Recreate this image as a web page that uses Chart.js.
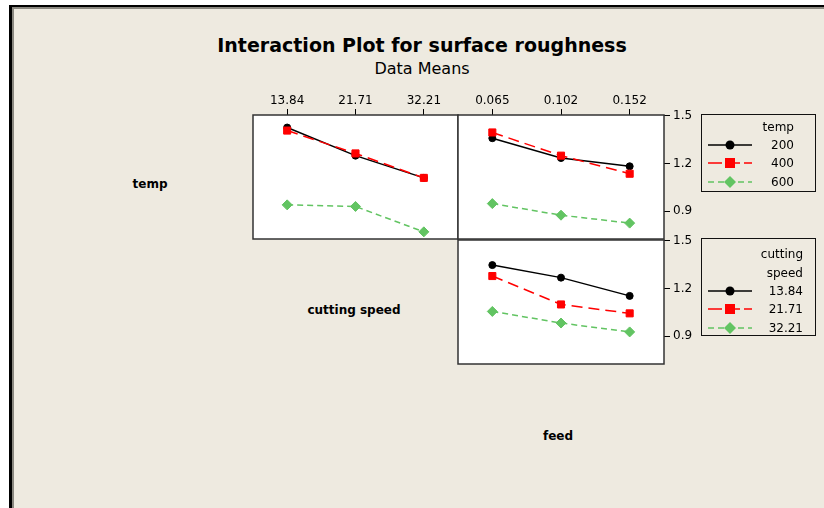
<!DOCTYPE html>
<html lang="en">
<head>
<meta charset="UTF-8">
<title>Interaction Plot for surface roughness</title>
<script src="https://cdn.jsdelivr.net/npm/chart.js"></script>
<style>
  body { margin: 0; background: #fff; width: 824px; height: 508px; overflow: hidden; position: relative; font-family: "DejaVu Sans", Verdana, sans-serif; }
  .frame { position: absolute; left: 9px; top: 5px; right: 0; bottom: 0; border-top: 2px solid #000; border-left: 3px solid #000; }
  .inner { position: absolute; left: 0; top: 0; right: 0; bottom: 0; border-top: 2px solid #8a8880; border-left: 2px solid #8a8880; background: #eeeae0; }
  .lbl { position: absolute; transform: translate(-50%, -50%); white-space: nowrap; color: #000; }
  .bold { font-weight: bold; font-size: 12px; }
  canvas { position: absolute; }
  .legend { position: absolute; border: 1.5px solid #111; box-sizing: border-box; }
  .legend .t { position: absolute; font-size: 12px; transform: translateY(-50%); text-align: right; white-space: nowrap; }
  .legend svg { position: absolute; }
</style>
</head>
<body>
<div class="frame"><div class="inner"></div></div>

<div class="lbl" style="left:422px;top:45px;font-weight:bold;font-size:19px;">Interaction Plot for surface roughness</div>
<div class="lbl" style="left:422px;top:68px;font-size:16px;">Data Means</div>
<div class="lbl bold" style="left:150px;top:184px;">temp</div>
<div class="lbl bold" style="left:354px;top:310px;">cutting speed</div>
<div class="lbl bold" style="left:558px;top:436px;">feed</div>

<canvas id="p1" width="245" height="165" style="left:233px;top:80px;"></canvas>
<canvas id="p2" width="276" height="165" style="left:438px;top:80px;"></canvas>
<canvas id="p3" width="276" height="140" style="left:438px;top:230px;"></canvas>

<div id="leg1" class="legend" style="left:701px;top:114px;width:115px;height:78px;"></div>
<div id="leg2" class="legend" style="left:701px;top:238px;width:115px;height:98px;"></div>

<script>
// x categories
const speedLevels = ['13.84', '21.71', '32.21'];
const feedLevels = ['0.065', '0.102', '0.152'];
const tempLevels = ['200', '400', '600'];
const yTicks = [0.9, 1.2, 1.5];

// temp x cutting speed (top-left panel)
const speedTemp200 = [1.427, 1.250, 1.110];
const speedTemp400 = [1.408, 1.264, 1.110];
const speedTemp600 = [0.940, 0.930, 0.770];

// temp x feed (top-right panel)
const feedTemp200 = [1.360, 1.235, 1.183];
const feedTemp400 = [1.396, 1.250, 1.136];
const feedTemp600 = [0.948, 0.875, 0.825];

// cutting speed x feed (bottom-right panel)
const feedSpeed1384 = [1.348, 1.269, 1.154];
const feedSpeed2171 = [1.279, 1.100, 1.044];
const feedSpeed3221 = [1.056, 0.983, 0.927];

const yMin = 0.725, yMax = 1.506;

const styles = [
  { color: '#000000', dash: [], point: 'circle', radius: 3.5, order: 3 },
  { color: '#ff0000', dash: [11, 6], point: 'rect', radius: 5, order: 1 },
  { color: '#62c462', dash: [6, 4], point: 'rectRot', radius: 5, order: 2 }
];

function makeSets(series) {
  return series.map((d, i) => ({
    data: d,
    borderColor: styles[i].color,
    backgroundColor: styles[i].color,
    borderWidth: 1.5,
    borderDash: styles[i].dash,
    pointStyle: styles[i].point,
    pointRadius: styles[i].radius,
    pointBorderWidth: 1,
    order: styles[i].order,
    tension: 0
  }));
}

const panelBox = {
  id: 'panelBox',
  beforeDraw(chart) {
    const a = chart.chartArea, ctx = chart.ctx;
    ctx.save();
    ctx.fillStyle = '#ffffff';
    ctx.fillRect(a.left, a.top, a.right - a.left, a.bottom - a.top);
    ctx.restore();
  },
  afterDraw(chart) {
    const a = chart.chartArea, ctx = chart.ctx;
    ctx.save();
    ctx.strokeStyle = '#333';
    ctx.lineWidth = 1.5;
    ctx.strokeRect(a.left, a.top, a.right - a.left, a.bottom - a.top);
    ctx.restore();
  }
};

function panel(id, labels, series, showX, showY, padding) {
  return new Chart(document.getElementById(id), {
    type: 'line',
    data: { labels: labels, datasets: makeSets(series) },
    options: {
      responsive: false,
      animation: false,
      layout: { padding: padding },
      plugins: { legend: { display: false }, tooltip: { enabled: false } },
      scales: {
        x: {
          display: showX,
          position: 'top',
          offset: true,
          afterFit(s) {
            s.paddingLeft = 0; s.paddingRight = 0;
            if (showX) s.height = 30;
          },
          ticks: { color: '#000', font: { family: 'DejaVu Sans', size: 12 }, padding: 1, maxRotation: 0 },
          grid: { drawOnChartArea: false, tickLength: 6, color: '#000', lineWidth: 1 },
          border: { display: false }
        },
        y: {
          display: showY,
          position: 'right',
          min: yMin,
          max: yMax,
          afterFit(s) {
            s.paddingTop = 0; s.paddingBottom = 0;
            if (showY) s.width = 40;
          },
          afterBuildTicks(s) { s.ticks = yTicks.map(v => ({ value: v })); },
          ticks: { color: '#000', font: { family: 'DejaVu Sans', size: 12 }, padding: 3, callback: v => v.toFixed(1) },
          grid: { drawOnChartArea: false, tickLength: 6, color: '#000', lineWidth: 1 },
          border: { display: false }
        }
      }
    },
    plugins: [panelBox]
  });
}

panel('p1', speedLevels, [speedTemp200, speedTemp400, speedTemp600], true, false,
  { left: 20, right: 20, top: 5, bottom: 5 });
panel('p2', feedLevels, [feedTemp200, feedTemp400, feedTemp600], true, true,
  { left: 20, right: 10, top: 5, bottom: 5 });
panel('p3', feedLevels, [feedSpeed1384, feedSpeed2171, feedSpeed3221], false, true,
  { left: 20, right: 10, top: 10, bottom: 5 });

// legends
function marker(s) {
  const c = s.color;
  let m = '';
  if (s.point === 'circle') m = `<circle cx="22" cy="6" r="4.5" fill="${c}"/>`;
  else if (s.point === 'rect') m = `<rect x="17" y="1" width="10" height="10" fill="${c}"/>`;
  else m = `<polygon points="22,0 28,6 22,12 16,6" fill="${c}"/>`;
  const dash = s.dash.length ? `stroke-dasharray="${s.point === 'rect' ? '14,4' : '6,4'}"` : '';
  return `<svg width="46" height="12"><line x1="0" y1="6" x2="44" y2="6" stroke="${c}" stroke-width="1.5" ${dash}/>${m}</svg>`;
}
function buildLegend(el, titleLines, names, right, rowY) {
  let html = '';
  titleLines.forEach(t => { html += `<div class="t" style="right:${right}px;top:${t[1]}px;">${t[0]}</div>`; });
  names.forEach((n, i) => {
    html += `<span style="position:absolute;left:6px;top:${rowY[i] - 6}px;">${marker(styles[i])}</span>`;
    html += `<div class="t" style="right:${right}px;top:${rowY[i]}px;">${n}</div>`;
  });
  el.innerHTML = html;
}
buildLegend(document.getElementById('leg1'), [['temp', 12]], tempLevels, 21, [30, 48, 67]);
buildLegend(document.getElementById('leg2'), [['cutting', 15], ['speed', 34]], speedLevels, 12, [52, 70, 89]);
</script>
</body>
</html>
